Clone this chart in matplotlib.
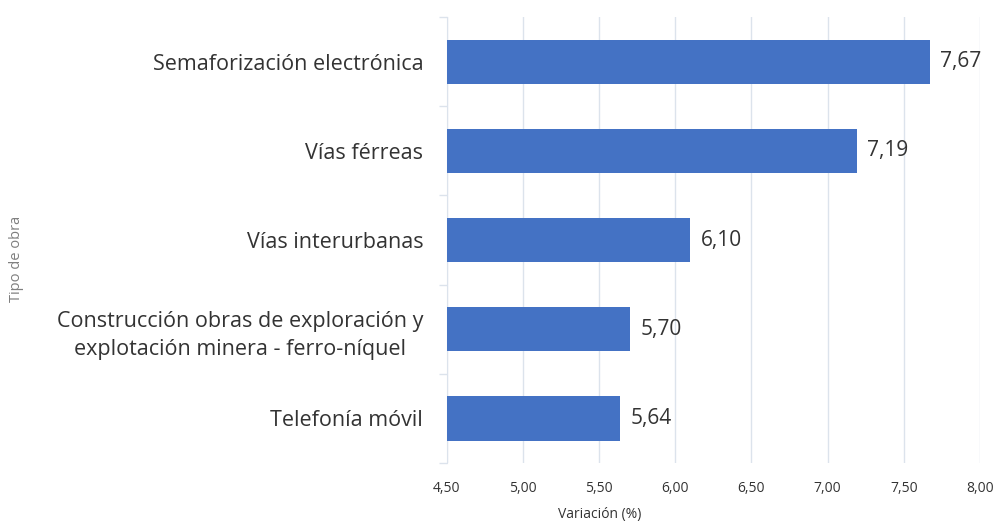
import numpy as np
import matplotlib
matplotlib.use("Agg")
import matplotlib.pyplot as plt
from matplotlib.ticker import FixedLocator, FuncFormatter

plt.rcParams['font.family'] = ['Open Sans', 'DejaVu Sans']

# datos
categorias = [
    "Semaforización electrónica",
    "Vías férreas",
    "Vías interurbanas",
    "Construcción obras de exploración y\nexplotación minera - ferro-níquel",
    "Telefonía móvil",
]
valores = [7.67, 7.19, 6.10, 5.70, 5.64]
ticks_x = [4.5, 5.0, 5.5, 6.0, 6.5, 7.0, 7.5, 8.0]

BAR_COLOR = "#4472C4"
GRID_COLOR = "#DCE3EC"
TEXT_COLOR = "#333333"


def coma(v):
    return f"{v:.2f}".replace(".", ",")


fig = plt.figure(figsize=(10.04, 5.23), dpi=100)
ax = fig.add_axes([0.445, 0.115, 0.531, 0.852])

y = np.arange(len(categorias))
ax.barh(y, valores, height=0.5, color=BAR_COLOR, zorder=3)

ax.set_xlim(4.5, 8.0)
ax.set_ylim(len(categorias) - 0.5, -0.5)

ax.set_xticks(ticks_x)
ax.xaxis.set_major_formatter(FuncFormatter(lambda v, p: coma(v)))
ax.tick_params(axis='x', length=0, labelsize=10, labelcolor=TEXT_COLOR, pad=13)
ax.grid(axis='x', color=GRID_COLOR, linewidth=1, zorder=0)

ax.set_yticks(y)
ax.set_yticklabels(categorias, fontsize=15.5, color=TEXT_COLOR, ha='right',
                   multialignment='center', linespacing=1.45)
ax.tick_params(axis='y', which='major', length=0, pad=17)
ax.yaxis.set_minor_locator(FixedLocator(np.arange(-0.5, len(categorias), 1.0)))
ax.tick_params(axis='y', which='minor', length=6, color=GRID_COLOR, width=1)

for s in ['top', 'right', 'bottom']:
    ax.spines[s].set_visible(False)
ax.spines['left'].set_color(GRID_COLOR)

# etiquetas de valor
for yi, v in zip(y, valores):
    ax.text(v + 0.07, yi, coma(v), va='center', ha='left',
            fontsize=15, color=TEXT_COLOR)

ax.set_xlabel("Variación (%)", fontsize=10, color=TEXT_COLOR)
ax.xaxis.set_label_coords(0.287, -0.117)
ax.xaxis.label.set_va('center')
fig.text(0.016, 0.505, "Tipo de obra", rotation=90, va='center', ha='center',
         fontsize=10.5, color="#7F7F7F")

fig.savefig("out.png", dpi=100)
